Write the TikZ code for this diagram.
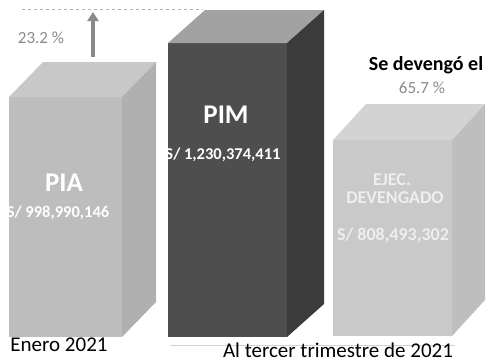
\documentclass[tikz,border=0pt]{standalone}
\usepackage{fontspec}
\setmainfont{Carlito}
\usetikzlibrary{arrows.meta,calc}
\definecolor{piaF}{HTML}{BDBDBD}
\definecolor{piaT}{HTML}{C8C8C8}
\definecolor{piaS}{HTML}{B0B0B0}
\definecolor{pimF}{HTML}{4E4E4E}
\definecolor{pimT}{HTML}{A2A2A2}
\definecolor{pimS}{HTML}{3B3B3B}
\definecolor{ejF}{HTML}{C9C9C9}
\definecolor{ejT}{HTML}{D3D3D3}
\definecolor{ejS}{HTML}{BEBEBE}
\definecolor{pctgray}{HTML}{8A8A8A}
\tikzset{
  boxlabel/.style={text=white,font=\bfseries\fontsize{27}{29}\selectfont},
  amount/.style={text=white,font=\bfseries\fontsize{16.5}{18}\selectfont},
  faint/.style={text=white,opacity=0.7,font=\bfseries\fontsize{18}{20}\selectfont},
  caption/.style={text=black,font=\fontsize{21}{23}\selectfont},
  pct/.style={text=pctgray,font=\fontsize{17}{19}\selectfont},
  guide/.style={gray!60,line width=0.6pt,dash pattern=on 3pt off 3pt},
}
\newcommand{\drawcuboid}[9]{%
  \fill[#7] (#1,#2) rectangle (#3,#4);
  \fill[#8] (#1,#2) -- ++(#5,-#6) -- ($(#3,#2)+(#5,-#6)$) -- (#3,#2) -- cycle;
  \fill[#9] (#3,#2) -- ++(#5,-#6) -- ($(#3,#4)+(#5,-#6)$) -- (#3,#4) -- cycle;
}
\begin{document}
\begin{tikzpicture}[x=1pt,y=-1pt]
\useasboundingbox (0,0) rectangle (488,362);
% guide lines
\draw[guide] (22,9) -- (203,9);
\draw[gray!35,line width=0.8pt] (170,345) -- (455,345);
% PIA
\drawcuboid{9}{97}{122}{337}{34}{35}{piaF}{piaT}{piaS}
% PIM
\drawcuboid{168}{43}{287}{337}{37}{33}{pimF}{pimT}{pimS}
% EJEC
\drawcuboid{333}{140}{452}{336}{33}{36}{ejF}{ejT}{ejS}
% arrow
\coordinate (arrS) at (93,57);
\coordinate (arrE) at (93,12);
\draw[pctgray,line width=3.5pt,-{Triangle[width=11pt,length=9pt]}] (arrS) -- (arrE);
% texts
\node[pct] (p1) at (41,38) {23.2 \%};
\node[boxlabel] (pia) at (64,183) {PIA};
\node[amount] (piav) at (58,213) {S/ 998,990,146};
\node[boxlabel] (pim) at (226,115) {PIM};
\node[amount] (pimv) at (223,155) {S/ 1,230,374,411};
\node[faint] (ej1) at (392,180) {EJEC.};
\node[faint] (ej2) at (395,198) {DEVENGADO};
\node[faint] (ej3) at (393,235) {S/ 808,493,302};
\node[text=black,font=\bfseries\fontsize{20}{22}\selectfont] (sed) at (426,65) {Se devengó el};
\node[pct] (p2) at (422,88) {65.7 \%};
\node[caption] (en) at (59,345) {Enero 2021};
\node[caption] (al) at (338,350) {Al tercer trimestre de 2021};
\end{tikzpicture}
\end{document}
